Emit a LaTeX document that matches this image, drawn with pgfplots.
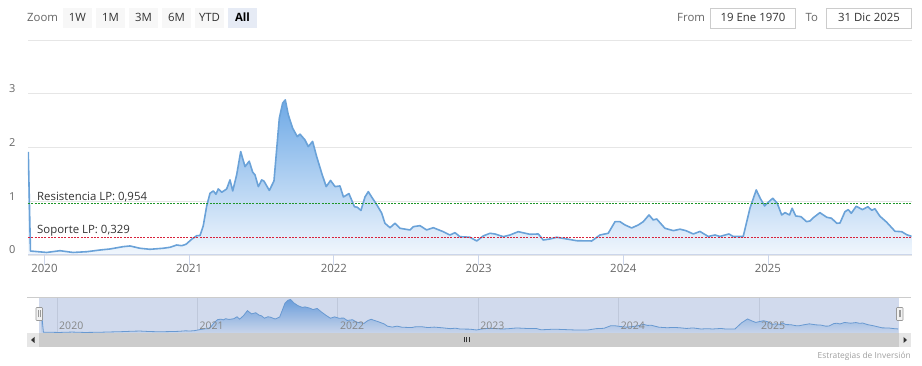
\documentclass[border=0pt]{standalone}
\usepackage{pgfplots}
\pgfplotsset{compat=1.18}
\usepackage{pgfplotstable}
\usepackage{fontspec}
\setmainfont{Open Sans}
\newcommand\fs[1]{\fontsize{#1}{#1}\selectfont}
\definecolor{gridc}{HTML}{E6E6E6}
\definecolor{axisc}{HTML}{CCD6EB}
\definecolor{labc}{HTML}{666666}
\definecolor{txt}{HTML}{333333}
\definecolor{btnbg}{HTML}{F7F7F7}
\definecolor{btnsel}{HTML}{E6EBF5}
\definecolor{lineblue}{HTML}{6AA2D8}
\definecolor{areatop}{HTML}{6EA9E6}
\definecolor{areamid}{HTML}{B3D2F2}
\definecolor{areabot}{HTML}{F1F7FD}
\definecolor{resgreen}{RGB}{30,150,40}
\definecolor{supred}{RGB}{215,35,60}
\definecolor{maskc}{HTML}{6685C2}
\definecolor{trackc}{HTML}{F2F2F2}
\definecolor{barc}{HTML}{CCCCCC}
\definecolor{btnc}{HTML}{E6E6E6}

\pgfplotstableread{
t v
2019.888 1.918
2019.903 0.074
2020.015 0.047
2020.107 0.080
2020.197 0.047
2020.292 0.061
2020.384 0.093
2020.453 0.112
2020.543 0.155
2020.591 0.168
2020.660 0.125
2020.729 0.106
2020.819 0.125
2020.867 0.143
2020.914 0.186
2020.948 0.173
2020.978 0.199
2021.017 0.292
2021.052 0.359
2021.075 0.363
2021.097 0.540
2021.121 0.912
2021.144 1.149
2021.167 1.192
2021.185 1.130
2021.201 1.229
2021.225 1.168
2021.259 1.229
2021.282 1.397
2021.301 1.192
2021.328 1.490
2021.356 1.924
2021.386 1.644
2021.415 1.745
2021.439 1.540
2021.455 1.490
2021.478 1.272
2021.501 1.397
2021.517 1.374
2021.554 1.201
2021.586 1.378
2021.623 2.546
2021.646 2.825
2021.664 2.886
2021.685 2.607
2021.715 2.359
2021.747 2.203
2021.766 2.248
2021.800 2.142
2021.823 2.017
2021.853 2.114
2021.881 1.831
2021.916 1.521
2021.947 1.272
2021.977 1.387
2022.008 1.272
2022.042 1.285
2022.066 1.080
2022.104 1.142
2022.142 0.899
2022.162 0.888
2022.187 0.829
2022.215 1.080
2022.238 1.179
2022.263 1.071
2022.291 0.959
2022.330 0.782
2022.353 0.590
2022.388 0.508
2022.422 0.590
2022.457 0.497
2022.526 0.466
2022.549 0.527
2022.595 0.546
2022.641 0.466
2022.687 0.508
2022.756 0.434
2022.802 0.372
2022.837 0.415
2022.871 0.341
2022.941 0.330
2022.987 0.261
2023.032 0.354
2023.079 0.404
2023.113 0.391
2023.171 0.341
2023.217 0.372
2023.274 0.434
2023.355 0.385
2023.413 0.391
2023.447 0.279
2023.493 0.298
2023.540 0.330
2023.609 0.298
2023.678 0.266
2023.782 0.261
2023.839 0.372
2023.896 0.404
2023.943 0.620
2023.977 0.620
2024.012 0.559
2024.058 0.503
2024.104 0.559
2024.138 0.620
2024.178 0.745
2024.207 0.652
2024.231 0.670
2024.288 0.497
2024.346 0.453
2024.392 0.480
2024.433 0.453
2024.484 0.391
2024.530 0.438
2024.587 0.345
2024.634 0.372
2024.668 0.345
2024.730 0.391
2024.760 0.345
2024.829 0.345
2024.876 0.875
2024.919 1.210
2024.948 1.047
2024.977 0.912
2025.007 0.993
2025.033 1.056
2025.064 0.963
2025.095 0.745
2025.118 0.788
2025.149 0.745
2025.167 0.870
2025.192 0.726
2025.228 0.713
2025.267 0.620
2025.290 0.633
2025.313 0.693
2025.359 0.788
2025.406 0.702
2025.440 0.683
2025.475 0.590
2025.498 0.596
2025.532 0.806
2025.555 0.844
2025.576 0.777
2025.610 0.907
2025.653 0.844
2025.691 0.899
2025.717 0.832
2025.739 0.860
2025.774 0.721
2025.820 0.611
2025.878 0.441
2025.924 0.434
2025.959 0.378
2025.992 0.348
}\data

\pgfplotstableread{
t v
2019.886 0.954
2025.992 0.954
}\resline
\pgfplotstableread{
t v
2019.886 0.329
2025.992 0.329
}\supline

\begin{document}
\begin{tikzpicture}
\path[use as bounding box] (0,0) rectangle (922pt,366pt);

% ---------- toolbar ----------
\node[anchor=base west, inner sep=0pt, text=labc] at (27pt,344.5pt) {\fs{11.4}Zoom};
\foreach \cx/\lab in {77.5/1W,110.5/1M,143.5/3M,176.5/6M,209.5/YTD}{
  \fill[btnbg] (\cx pt-14.5pt,338pt) rectangle (\cx pt+14.5pt,358pt);
  \node[anchor=base, inner sep=0pt, text=txt] at (\cx pt,344.5pt) {\fs{11.4}\lab};
}
\fill[btnsel] (228pt,338pt) rectangle (257pt,358pt);
\node[anchor=base, inner sep=0pt, text=black] at (242.5pt,344.5pt) {\fs{11.4}\bfseries All};

\node[anchor=base west, inner sep=0pt, text=labc] at (677pt,344.5pt) {\fs{11.4}From};
\draw[barc, fill=white, line width=0.8pt] (710.5pt,338pt) rectangle (795.5pt,358pt);
\node[anchor=base, inner sep=0pt, text=txt] at (753pt,344.5pt) {\fs{11.4}19 Ene 1970};
\node[anchor=base west, inner sep=0pt, text=labc] at (805.5pt,344.5pt) {\fs{11.4}To};
\draw[barc, fill=white, line width=0.8pt] (826.5pt,338pt) rectangle (911.5pt,358pt);
\node[anchor=base, inner sep=0pt, text=txt] at (869pt,344.5pt) {\fs{11.4}31 Dic 2025};

% ---------- main chart ----------
\begin{axis}[
  at={(28pt,111pt)}, anchor=south west,
  width=883.5pt, height=215pt, scale only axis,
  xmin=2019.886, xmax=2025.992,
  ymin=0, ymax=4,
  xtick={2020,2021,2022,2023,2024,2025},
  xticklabels={2020,2021,2022,2023,2024,2025},
  ytick={0,1,2,3,4},
  yticklabels={0,1,2,3,{}},
  ymajorgrids, grid style={draw=gridc, line width=0.9pt},
  axis line style={draw=none},
  xtick pos=left, tick align=outside, major tick length=10pt,
  xtick style={draw=axisc, line width=0.9pt},
  ytick style={draw=none},
  xticklabel style={font=\fs{11.4}, text=labc, anchor=base, inner sep=0pt, yshift=-8pt},
  yticklabel style={font=\fs{11}, text=labc, anchor=base west, inner sep=0pt, xshift=-9pt, yshift=1pt},
]
\addplot[draw=none, top color=areatop, middle color=areamid, bottom color=areabot] table[x=t,y=v]{\data} \closedcycle;
\addplot[color=lineblue, line width=1.6pt, line join=round] table[x=t,y=v]{\data};
\addplot[color=resgreen, solid, line width=1.2pt, dash pattern=on 2pt off 1.3pt] table[x=t,y=v]{\resline};
\addplot[color=supred, solid, line width=1.2pt, dash pattern=on 2pt off 1.3pt] table[x=t,y=v]{\supline};
\node[anchor=base west, inner sep=0pt, text=txt] at (axis cs:2019.948,1.02) {\fs{11.4}Resistencia LP: 0,954};
\node[anchor=base west, inner sep=0pt, text=txt] at (axis cs:2019.948,0.395) {\fs{11.4}Soporte LP: 0,329};
\end{axis}
\draw[axisc, line width=1pt] (28pt,111pt) -- (911.5pt,111pt);

% ---------- navigator ----------
\begin{axis}[
  at={(27pt,33pt)}, anchor=south west,
  width=884pt, height=36pt, scale only axis,
  xmin=2019.786, xmax=2026.083,
  ymin=0, ymax=3.1,
  xtick={2020,2021,2022,2023,2024,2025},
  xticklabels={}, ytick=\empty,
  xmajorgrids, grid style={draw=gridc, line width=0.9pt},
  axis line style={draw=none},
  xtick style={draw=none},
]
\addplot[draw=none, top color=areatop, bottom color=areatop!8!white] table[x=t,y=v]{\data} \closedcycle;
\addplot[color=lineblue, line width=0.8pt] table[x=t,y=v]{\data};
\fill[maskc, fill opacity=0.3] (axis cs:2019.871,0) rectangle (axis cs:2025.997,3.1);
\node[anchor=base west, inner sep=0pt, text=labc!80!white, xshift=2pt, yshift=3pt] at (axis cs:2020,0) {\fs{10.5}2020};
\node[anchor=base west, inner sep=0pt, text=labc!80!white, xshift=2pt, yshift=3pt] at (axis cs:2021,0) {\fs{10.5}2021};
\node[anchor=base west, inner sep=0pt, text=labc!80!white, xshift=2pt, yshift=3pt] at (axis cs:2022,0) {\fs{10.5}2022};
\node[anchor=base west, inner sep=0pt, text=labc!80!white, xshift=2pt, yshift=3pt] at (axis cs:2023,0) {\fs{10.5}2023};
\node[anchor=base west, inner sep=0pt, text=labc!80!white, xshift=2pt, yshift=3pt] at (axis cs:2024,0) {\fs{10.5}2024};
\node[anchor=base west, inner sep=0pt, text=labc!80!white, xshift=2pt, yshift=3pt] at (axis cs:2025,0) {\fs{10.5}2025};
\end{axis}
\draw[barc, line width=0.8pt] (27pt,69pt) -- (911pt,69pt);
% handles
\foreach \hx in {36,896.5}{
  \draw[fill=trackc, draw=gray!80, line width=0.6pt, rounded corners=0.8pt] (\hx pt,45.5pt) rectangle ++(6.5pt,13pt);
  \draw[gray!80, line width=0.6pt] (\hx pt+2.3pt,48.5pt) -- ++(0,7pt);
  \draw[gray!80, line width=0.6pt] (\hx pt+4.2pt,48.5pt) -- ++(0,7pt);
}

% ---------- scrollbar ----------
\fill[trackc] (27pt,19pt) rectangle (911pt,33pt);
\fill[barc] (39pt,19pt) rectangle (899pt,33pt);
\fill[btnc] (27pt,19pt) rectangle (39pt,33pt);
\fill[btnc] (899pt,19pt) rectangle (911pt,33pt);
\fill[txt] (34.5pt,29pt) -- (31pt,26pt) -- (34.5pt,23pt) -- cycle;
\fill[txt] (903.5pt,29pt) -- (907pt,26pt) -- (903.5pt,23pt) -- cycle;
\foreach \rx in {464,466.5,469}{
  \draw[txt, line width=0.7pt] (\rx pt,23.5pt) -- (\rx pt,29pt);
}

% ---------- credits ----------
\node[anchor=base east, inner sep=0pt, text=gray!75] at (911pt,7pt) {\fs{8.4}Estrategias de Inversión};
\end{tikzpicture}
\end{document}
